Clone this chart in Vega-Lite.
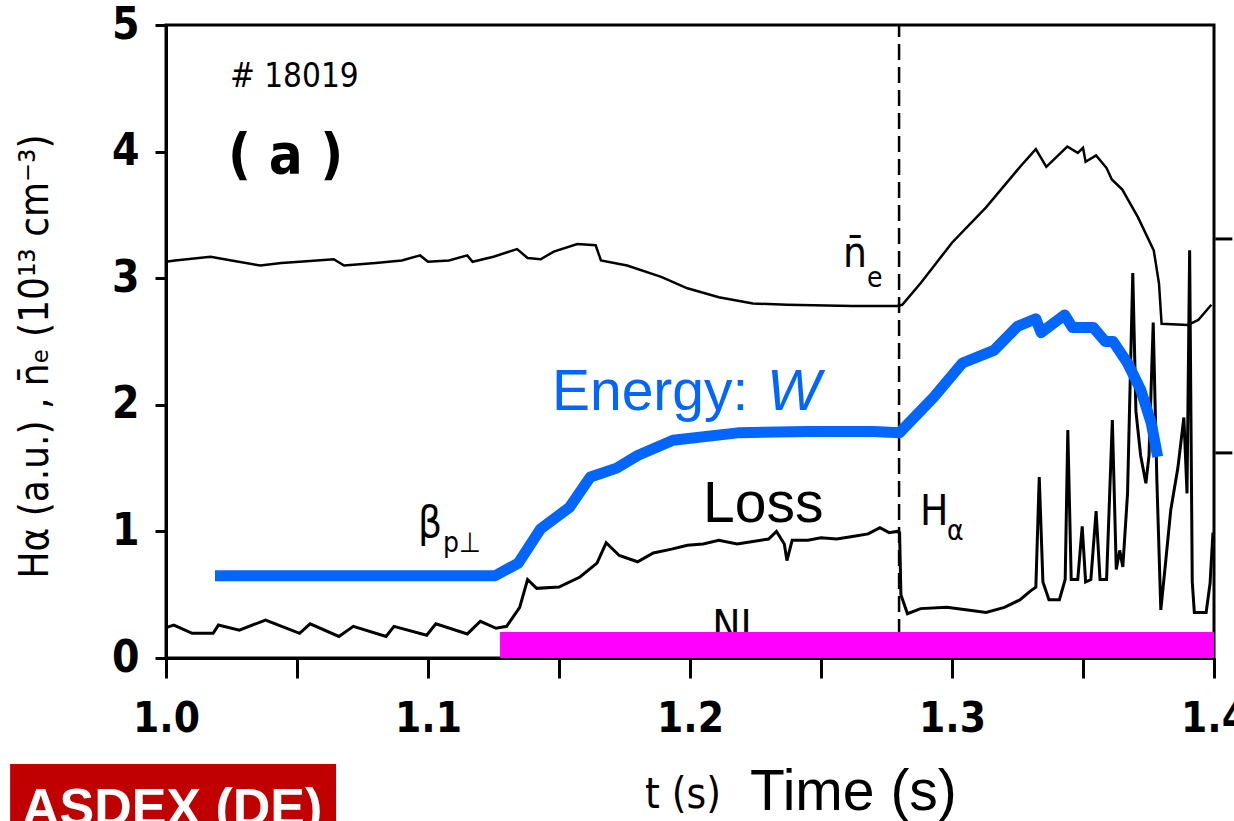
{
  "$schema": "https://vega.github.io/schema/vega-lite/v6.json",
  "width": 1048,
  "height": 633,
  "autosize": "none",
  "padding": {"left": 166, "top": 25, "right": 20, "bottom": 163},
  "background": "white",
  "config": {
    "view": {"stroke": "black", "strokeWidth": 3},
    "axis": {"domainColor": "black", "domainWidth": 3, "tickColor": "black", "tickWidth": 3, "labelColor": "black", "titleColor": "black", "grid": false}
  },
  "datasets": {
    "ne": [
      {"t":1.000,"v":3.13},{"t":1.0034,"v":3.14},{"t":1.017,"v":3.17},{"t":1.025,"v":3.14},{"t":1.036,"v":3.10},{"t":1.044,"v":3.12},{"t":1.051,"v":3.13},{"t":1.064,"v":3.15},{"t":1.068,"v":3.10},{"t":1.080,"v":3.12},{"t":1.090,"v":3.14},{"t":1.097,"v":3.18},{"t":1.100,"v":3.13},{"t":1.108,"v":3.14},{"t":1.115,"v":3.18},{"t":1.117,"v":3.13},{"t":1.125,"v":3.17},{"t":1.134,"v":3.23},{"t":1.138,"v":3.16},{"t":1.143,"v":3.15},{"t":1.148,"v":3.21},{"t":1.157,"v":3.27},{"t":1.164,"v":3.26},{"t":1.166,"v":3.14},{"t":1.176,"v":3.10},{"t":1.189,"v":3.01},{"t":1.199,"v":2.92},{"t":1.211,"v":2.85},{"t":1.224,"v":2.80},{"t":1.237,"v":2.79},{"t":1.262,"v":2.78},{"t":1.279,"v":2.78},{"t":1.281,"v":2.79},{"t":1.288,"v":2.96},{"t":1.300,"v":3.28},{"t":1.313,"v":3.56},{"t":1.326,"v":3.88},{"t":1.332,"v":4.02},{"t":1.336,"v":3.88},{"t":1.344,"v":4.04},{"t":1.348,"v":3.99},{"t":1.350,"v":4.03},{"t":1.351,"v":3.92},{"t":1.355,"v":3.97},{"t":1.359,"v":3.87},{"t":1.361,"v":3.78},{"t":1.365,"v":3.70},{"t":1.371,"v":3.48},{"t":1.377,"v":3.22},{"t":1.379,"v":2.96},{"t":1.380,"v":2.64},{"t":1.390,"v":2.63},{"t":1.394,"v":2.67},{"t":1.399,"v":2.79}
    ],
    "ha": [
      {"t":1.000,"v":0.24},{"t":1.003,"v":0.26},{"t":1.010,"v":0.195},{"t":1.018,"v":0.195},{"t":1.020,"v":0.26},{"t":1.028,"v":0.22},{"t":1.038,"v":0.30},{"t":1.051,"v":0.195},{"t":1.055,"v":0.27},{"t":1.066,"v":0.17},{"t":1.0715,"v":0.25},{"t":1.084,"v":0.17},{"t":1.087,"v":0.25},{"t":1.0995,"v":0.18},{"t":1.103,"v":0.27},{"t":1.115,"v":0.19},{"t":1.120,"v":0.29},{"t":1.126,"v":0.235},{"t":1.130,"v":0.25},{"t":1.135,"v":0.40},{"t":1.138,"v":0.62},{"t":1.1415,"v":0.55},{"t":1.150,"v":0.56},{"t":1.158,"v":0.64},{"t":1.1645,"v":0.75},{"t":1.168,"v":0.91},{"t":1.173,"v":0.81},{"t":1.180,"v":0.76},{"t":1.186,"v":0.83},{"t":1.193,"v":0.86},{"t":1.199,"v":0.89},{"t":1.205,"v":0.90},{"t":1.211,"v":0.93},{"t":1.218,"v":0.90},{"t":1.224,"v":0.92},{"t":1.230,"v":0.94},{"t":1.233,"v":1.00},{"t":1.236,"v":0.90},{"t":1.237,"v":0.77},{"t":1.239,"v":0.93},{"t":1.245,"v":0.93},{"t":1.250,"v":0.95},{"t":1.256,"v":0.94},{"t":1.262,"v":0.96},{"t":1.268,"v":0.98},{"t":1.2725,"v":1.03},{"t":1.276,"v":0.99},{"t":1.279,"v":1.00},{"t":1.2800,"v":0.99},{"t":1.2805,"v":0.50},{"t":1.283,"v":0.35},{"t":1.288,"v":0.39},{"t":1.298,"v":0.40},{"t":1.306,"v":0.38},{"t":1.313,"v":0.36},{"t":1.320,"v":0.40},{"t":1.326,"v":0.46},{"t":1.330,"v":0.53},{"t":1.332,"v":0.56},{"t":1.3333,"v":1.43},{"t":1.3347,"v":0.60},{"t":1.337,"v":0.46},{"t":1.341,"v":0.46},{"t":1.3432,"v":0.62},{"t":1.3442,"v":1.80},{"t":1.3455,"v":0.62},{"t":1.348,"v":0.62},{"t":1.3497,"v":1.04},{"t":1.3510,"v":0.60},{"t":1.353,"v":0.62},{"t":1.3550,"v":1.16},{"t":1.3565,"v":0.62},{"t":1.359,"v":0.62},{"t":1.3612,"v":1.88},{"t":1.3627,"v":0.70},{"t":1.3640,"v":0.85},{"t":1.3652,"v":0.72},{"t":1.3670,"v":1.30},{"t":1.3690,"v":3.04},{"t":1.3702,"v":1.95},{"t":1.3720,"v":1.60},{"t":1.3740,"v":1.38},{"t":1.3752,"v":1.60},{"t":1.3768,"v":2.65},{"t":1.3782,"v":1.40},{"t":1.3797,"v":0.38},{"t":1.3815,"v":0.75},{"t":1.3835,"v":1.17},{"t":1.3862,"v":1.50},{"t":1.3885,"v":1.90},{"t":1.3897,"v":1.30},{"t":1.3907,"v":3.22},{"t":1.3917,"v":0.60},{"t":1.3925,"v":0.36},{"t":1.3970,"v":0.36},{"t":1.3985,"v":0.59},{"t":1.3996,"v":0.99}
    ],
    "w": [
      {"t":1.0187,"v":0.65},{"t":1.1256,"v":0.65},{"t":1.1345,"v":0.75},{"t":1.143,"v":1.02},{"t":1.154,"v":1.19},{"t":1.162,"v":1.43},{"t":1.172,"v":1.50},{"t":1.180,"v":1.60},{"t":1.1935,"v":1.72},{"t":1.219,"v":1.78},{"t":1.245,"v":1.79},{"t":1.270,"v":1.79},{"t":1.280,"v":1.78},{"t":1.293,"v":2.06},{"t":1.304,"v":2.33},{"t":1.316,"v":2.43},{"t":1.325,"v":2.62},{"t":1.332,"v":2.68},{"t":1.334,"v":2.57},{"t":1.343,"v":2.71},{"t":1.346,"v":2.61},{"t":1.354,"v":2.61},{"t":1.3585,"v":2.50},{"t":1.3615,"v":2.50},{"t":1.367,"v":2.33},{"t":1.372,"v":2.12},{"t":1.376,"v":1.86},{"t":1.3785,"v":1.59}
    ],
    "ni": [{"t0":1.1275,"t1":1.4,"v0":0,"v1":0.205}],
    "divider": [{"t":1.2798,"v0":0,"v1":5}],
    "rightTicks": [{"v":1.62},{"v":3.31}],
    "badge": [{"t0":0.9405,"t1":1.0649,"v0":-0.837,"v1":-1.4}],
    "badgeText": [{"t":0.945,"v":-1.319,"label":"ASDEX (DE)"}],
    "shotText": [{"t":1.0244,"v":4.51,"label":"# 18019"}],
    "panelText": [{"t":1.0237,"v":3.83,"label":"( a )"}],
    "scanMain": [
      {"t":1.2584,"v":3.09,"label":"n̄"},
      {"t":1.0962,"v":0.956,"label":"β"},
      {"t":1.2878,"v":1.05,"label":"H"},
      {"t":1.1828,"v":-1.185,"label":"t (s)"}
    ],
    "scanSub": [
      {"t":1.2676,"v":2.93,"label":"e"},
      {"t":1.1057,"v":0.837,"label":"p⊥"},
      {"t":1.2981,"v":0.93,"label":"α"}
    ],
    "niText": [{"t":1.2085,"v":0.142,"label":"NI"}],
    "energyText": [{"t":1.1473,"v":1.959,"label":"Energy:"}],
    "energyW": [{"t":1.2294,"v":1.959,"label":"W"}],
    "blackBig": [
      {"t":1.205,"v":1.074,"label":"Loss"},
      {"t":1.2229,"v":-1.20,"label":"Time (s)"}
    ]
  },
  "layer": [
    {
      "data": {"name": "divider"},
      "mark": {"type": "rule", "color": "black", "strokeWidth": 2.5, "strokeDash": [16, 7]},
      "encoding": {
        "x": {"field": "t", "type": "quantitative", "scale": {"domain": [1, 1.4], "nice": false, "zero": false},
          "axis": {
            "values": [1, 1.05, 1.1, 1.15, 1.2, 1.25, 1.3, 1.35, 1.4],
            "labelExpr": "abs(datum.value*10 - round(datum.value*10)) < 0.01 ? format(datum.value, '.1f') : ''",
            "title": null, "tickSize": 20, "labelPadding": 20, "labelFontSize": 42,
            "labelFont": "DejaVu Sans Condensed, DejaVu Sans", "labelFontWeight": "bold",
            "labelFlush": false, "labelOverlap": false
          }},
        "y": {"field": "v0", "type": "quantitative", "scale": {"domain": [0, 5], "nice": false},
          "axis": {
            "values": [0, 1, 2, 3, 4, 5], "format": "d", "tickSize": 11, "labelPadding": 16, "labelFontSize": 44,
            "labelFont": "DejaVu Sans Condensed, DejaVu Sans", "labelFontWeight": "bold",
            "title": "Hα (a.u.) , n̄ₑ (10¹³ cm⁻³)",
            "titleFont": "DejaVu Sans Condensed, DejaVu Sans", "titleFontSize": 40, "titleFontWeight": "normal",
            "titleX": -119, "titleY": 331, "titleAngle": 270, "titleBaseline": "alphabetic", "titleAlign": "center"
          }},
        "y2": {"field": "v1"}
      }
    },
    {
      "data": {"name": "rightTicks"},
      "mark": {"type": "rule", "color": "black", "strokeWidth": 3},
      "encoding": {
        "x": {"datum": 1.4005},
        "x2": {"datum": 1.407},
        "y": {"field": "v", "type": "quantitative"}
      }
    },
    {
      "data": {"name": "ne"},
      "mark": {"type": "line", "color": "black", "strokeWidth": 2.5},
      "encoding": {
        "x": {"field": "t", "type": "quantitative"},
        "y": {"field": "v", "type": "quantitative"}
      }
    },
    {
      "data": {"name": "ha"},
      "mark": {"type": "line", "color": "black", "strokeWidth": 3},
      "encoding": {
        "x": {"field": "t", "type": "quantitative"},
        "y": {"field": "v", "type": "quantitative"}
      }
    },
    {
      "data": {"name": "niText"},
      "mark": {"type": "text", "align": "left", "baseline": "alphabetic", "fontSize": 42, "font": "DejaVu Sans Condensed, DejaVu Sans", "color": "black"},
      "encoding": {
        "x": {"field": "t", "type": "quantitative"},
        "y": {"field": "v", "type": "quantitative"},
        "text": {"field": "label"}
      }
    },
    {
      "data": {"name": "ni"},
      "mark": {"type": "rect", "color": "#FF00FF"},
      "encoding": {
        "x": {"field": "t0", "type": "quantitative"},
        "x2": {"field": "t1"},
        "y": {"field": "v0", "type": "quantitative"},
        "y2": {"field": "v1"}
      }
    },
    {
      "data": {"name": "w"},
      "mark": {"type": "line", "color": "#0066FF", "strokeWidth": 11, "strokeJoin": "round", "strokeCap": "butt"},
      "encoding": {
        "x": {"field": "t", "type": "quantitative"},
        "y": {"field": "v", "type": "quantitative"}
      }
    },
    {
      "data": {"name": "shotText"},
      "mark": {"type": "text", "align": "left", "baseline": "alphabetic", "fontSize": 33, "font": "DejaVu Sans Condensed, DejaVu Sans", "color": "black"},
      "encoding": {
        "x": {"field": "t", "type": "quantitative"},
        "y": {"field": "v", "type": "quantitative"},
        "text": {"field": "label"}
      }
    },
    {
      "data": {"name": "panelText"},
      "mark": {"type": "text", "align": "left", "baseline": "alphabetic", "fontSize": 56, "fontWeight": "bold", "font": "DejaVu Sans Condensed, DejaVu Sans", "color": "black"},
      "encoding": {
        "x": {"field": "t", "type": "quantitative"},
        "y": {"field": "v", "type": "quantitative"},
        "text": {"field": "label"}
      }
    },
    {
      "data": {"name": "scanMain"},
      "mark": {"type": "text", "align": "left", "baseline": "alphabetic", "fontSize": 42, "font": "DejaVu Sans Condensed, DejaVu Sans", "color": "black"},
      "encoding": {
        "x": {"field": "t", "type": "quantitative"},
        "y": {"field": "v", "type": "quantitative"},
        "text": {"field": "label"}
      }
    },
    {
      "data": {"name": "scanSub"},
      "mark": {"type": "text", "align": "left", "baseline": "alphabetic", "fontSize": 28, "font": "DejaVu Sans Condensed, DejaVu Sans", "color": "black"},
      "encoding": {
        "x": {"field": "t", "type": "quantitative"},
        "y": {"field": "v", "type": "quantitative"},
        "text": {"field": "label"}
      }
    },
    {
      "data": {"name": "energyText"},
      "mark": {"type": "text", "align": "left", "baseline": "alphabetic", "fontSize": 57, "font": "Liberation Sans", "color": "#0066FF"},
      "encoding": {
        "x": {"field": "t", "type": "quantitative"},
        "y": {"field": "v", "type": "quantitative"},
        "text": {"field": "label"}
      }
    },
    {
      "data": {"name": "energyW"},
      "mark": {"type": "text", "align": "left", "baseline": "alphabetic", "fontSize": 57, "fontStyle": "italic", "font": "Liberation Sans", "color": "#0066FF"},
      "encoding": {
        "x": {"field": "t", "type": "quantitative"},
        "y": {"field": "v", "type": "quantitative"},
        "text": {"field": "label"}
      }
    },
    {
      "data": {"name": "blackBig"},
      "mark": {"type": "text", "align": "left", "baseline": "alphabetic", "fontSize": 57, "font": "Liberation Sans", "color": "black"},
      "encoding": {
        "x": {"field": "t", "type": "quantitative"},
        "y": {"field": "v", "type": "quantitative"},
        "text": {"field": "label"}
      }
    },
    {
      "data": {"name": "badge"},
      "mark": {"type": "rect", "color": "#C00000"},
      "encoding": {
        "x": {"field": "t0", "type": "quantitative"},
        "x2": {"field": "t1"},
        "y": {"field": "v0", "type": "quantitative"},
        "y2": {"field": "v1"}
      }
    },
    {
      "data": {"name": "badgeText"},
      "mark": {"type": "text", "align": "left", "baseline": "alphabetic", "fontSize": 52, "fontWeight": "bold", "font": "Liberation Sans", "color": "white"},
      "encoding": {
        "x": {"field": "t", "type": "quantitative"},
        "y": {"field": "v", "type": "quantitative"},
        "text": {"field": "label"}
      }
    }
  ]
}
